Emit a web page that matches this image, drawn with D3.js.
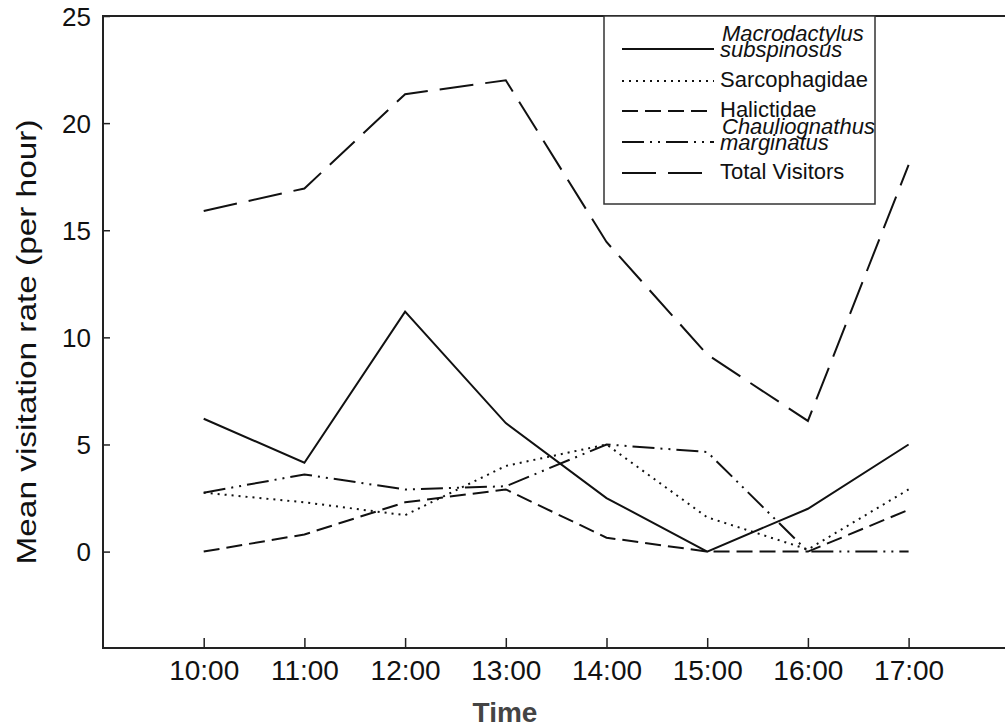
<!DOCTYPE html>
<html>
<head>
<meta charset="utf-8">
<script src="https://cdn.jsdelivr.net/npm/d3@7"></script>
<style>
  body { margin: 0; background: #fff; }
  text { font-family: "Liberation Sans", Arial, sans-serif; fill: #111; }
</style>
</head>
<body>
<div id="chart"></div>
<script>
var hours = [10, 11, 12, 13, 14, 15, 16, 17]
var timeLabels = ['10:00', '11:00', '12:00', '13:00', '14:00', '15:00', '16:00', '17:00']
var yTicks = [0, 5, 10, 15, 20, 25]

var macrodactylus  = [6.2, 4.15, 11.2, 6.0, 2.5, 0, 2.0, 5.0]
var sarcophagidae  = [2.75, 2.3, 1.7, 4.0, 5.0, 1.6, 0.1, 2.9]
var halictidae     = [0, 0.8, 2.3, 2.9, 0.65, 0, 0, 1.95]
var chauliognathus = [2.75, 3.6, 2.9, 3.05, 5.0, 4.65, 0, 0]
var totalVisitors  = [15.9, 16.95, 21.35, 22.0, 14.45, 9.2, 6.1, 18.05]

var series = [
  {name: ['Macrodactylus', 'subspinosus'], italic: true, values: macrodactylus, dash: null},
  {name: ['Sarcophagidae'], italic: false, values: sarcophagidae, dash: '2,5'},
  {name: ['Halictidae'], italic: false, values: halictidae, dash: '16,7'},
  {name: ['Chauliognathus', 'marginatus'], italic: true, values: chauliognathus, dash: '22,6,2,6,2,6'},
  {name: ['Total Visitors'], italic: false, values: totalVisitors, dash: '34,12'}
]

var width = 1005, height = 728
var margin = {left: 103, top: 16, bottom: 80}

var svg = d3.select('#chart').append('svg')
  .attr('width', width).attr('height', height)

var x = d3.scaleLinear().domain([9, 18]).range([margin.left, margin.left + 9 * 100.7])
var y = d3.scaleLinear().domain([-4.5, 25]).range([height - margin.bottom, margin.top])

// frame (right side runs off the picture)
svg.append('rect')
  .attr('x', x(9)).attr('y', y(25))
  .attr('width', 1100).attr('height', y(-4.5) - y(25))
  .attr('fill', 'none').attr('stroke', '#222').attr('stroke-width', 2)

// y axis, ticks pointing inward
var yAxis = svg.append('g').attr('transform', 'translate(' + x(9) + ',0)')
  .call(d3.axisRight(y).tickValues(yTicks).tickSize(7).tickFormat(d3.format('d')))
yAxis.select('.domain').remove()
yAxis.selectAll('line').attr('stroke', '#222').attr('stroke-width', 1.5)
yAxis.selectAll('text')
  .attr('x', -12).attr('dy', '0.35em').attr('text-anchor', 'end')
  .style('font-size', '26px').attr('fill', '#111')

// x axis, ticks pointing inward
var xAxis = svg.append('g').attr('transform', 'translate(0,' + y(-4.5) + ')')
  .call(d3.axisTop(x).tickValues(hours).tickSize(10).tickFormat(function(d, i){ return timeLabels[i] }))
xAxis.select('.domain').remove()
xAxis.selectAll('line').attr('stroke', '#222').attr('stroke-width', 1.5)
xAxis.selectAll('text')
  .attr('y', 32).attr('dy', 0).attr('text-anchor', 'middle')
  .style('font-size', '28px').attr('fill', '#111')

// axis titles
svg.append('text')
  .attr('transform', 'translate(36,342) rotate(-90)')
  .attr('text-anchor', 'middle')
  .attr('textLength', 445).attr('lengthAdjust', 'spacingAndGlyphs')
  .style('font-size', '27px')
  .text('Mean visitation rate (per hour)')

svg.append('text')
  .attr('x', 505).attr('y', 722)
  .attr('text-anchor', 'middle')
  .style('font-size', '28px').style('font-weight', 'bold').style('fill', '#444')
  .text('Time')

// lines
var line = d3.line()
  .x(function(d, i){ return x(hours[i]) })
  .y(function(d){ return y(d) })

svg.selectAll('path.series')
  .data(series)
  .join('path')
  .attr('class', 'series')
  .attr('d', function(d){ return line(d.values) })
  .attr('fill', 'none')
  .attr('stroke', '#111')
  .attr('stroke-width', 2)
  .attr('stroke-dasharray', function(d){ return d.dash })

// legend
var legendY = [49, 81, 111, 142, 173]
var legend = svg.append('g')
legend.append('rect')
  .attr('x', 604).attr('y', 16).attr('width', 271).attr('height', 188)
  .attr('fill', '#fff').attr('stroke', '#333').attr('stroke-width', 1.5)

var item = legend.selectAll('g.item')
  .data(series)
  .join('g')
  .attr('class', 'item')
  .attr('transform', function(d, i){ return 'translate(0,' + legendY[i] + ')' })

item.append('line')
  .attr('x1', 622).attr('x2', 714)
  .attr('stroke', '#111').attr('stroke-width', 2)
  .attr('stroke-dasharray', function(d){ return d.dash })

item.each(function(d){
  var g = d3.select(this)
  var t = g.append('text')
    .attr('x', 720)
    .style('font-size', '22px')
    .style('font-style', d.italic ? 'italic' : 'normal')
  if (d.name.length == 2) {
    t.append('tspan').attr('x', 722).attr('y', -8).text(d.name[0])
    t.append('tspan').attr('x', 720).attr('y', 8).text(d.name[1])
  } else {
    t.attr('y', 6).text(d.name[0])
  }
})
</script>
</body>
</html>
